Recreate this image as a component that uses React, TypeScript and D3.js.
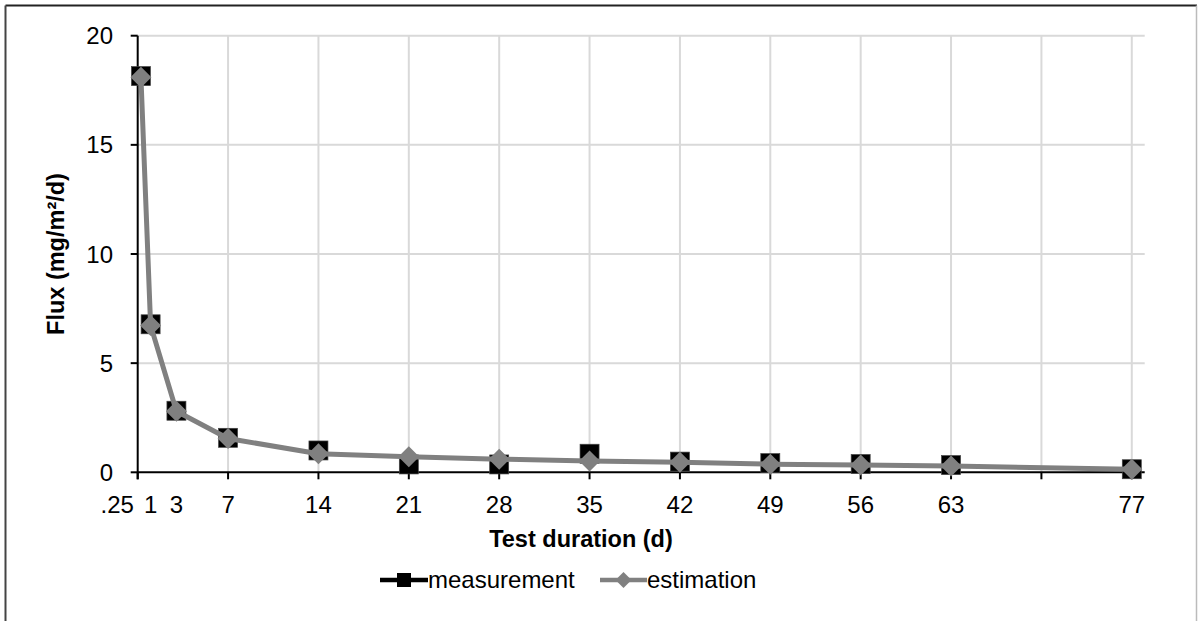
import React from "react";
import * as d3 from "d3";

const days = [0.25, 1, 3, 7, 14, 21, 28, 35, 42, 49, 56, 63, 77];
const dayLabels = [".25", "1", "3", "7", "14", "21", "28", "35", "42", "49", "56", "63", "77"];
const measurement = [18.15, 6.78, 2.82, 1.58, 1.0, 0.36, 0.36, 0.85, 0.49, 0.42, 0.38, 0.33, 0.14];
const estimation = [18.1, 6.73, 2.8, 1.55, 0.85, 0.71, 0.6, 0.52, 0.46, 0.37, 0.33, 0.29, 0.14];
const xGridTicks = [7, 14, 21, 28, 35, 42, 49, 56, 63, 70, 77];
const xAxisTicks = [0, 7, 14, 21, 28, 35, 42, 49, 56, 63, 70, 77];
const yTicks = [0, 5, 10, 15, 20];

const W = 1198;
const H = 621;
const FONT = "'Liberation Sans', Arial, sans-serif";
const FS = 24;

export default function App() {
  const x = d3.scaleLinear().domain([0, 78]).range([137.7, 1144.7]);
  const y = d3.scaleLinear().domain([0, 20]).range([472.3, 35.7]);

  const estLine = d3
    .line<number>()
    .x((_, i) => x(days[i]))
    .y((d) => y(d))(estimation) as string;

  const diamond = (cx: number, cy: number, r: number) =>
    `M${cx},${cy - r}L${cx + r},${cy}L${cx},${cy + r}L${cx - r},${cy}Z`;

  const x0 = x(0);
  const x1 = x(78);
  const y0 = y(0);
  const y1 = y(20);

  return (
    <svg
      width={W}
      height={H}
      style={{ position: "absolute", left: 0, top: 0, background: "#fff" }}
      fontFamily={FONT}
    >
      <rect x={0} y={0} width={W} height={H} fill="#fff" />
      {/* outer frame */}
      <line x1={5.5} y1={5.5} x2={1197} y2={5.5} stroke="#222" strokeWidth={2} />
      <line x1={5.5} y1={5.5} x2={5.5} y2={H} stroke="#444" strokeWidth={2} />
      <line x1={1196.5} y1={5.5} x2={1196.5} y2={H} stroke="#bbb" strokeWidth={1.5} />

      {/* gridlines */}
      {yTicks
        .filter((t) => t > 0)
        .map((t) => (
          <line key={"gy" + t} x1={x0} x2={x1} y1={y(t)} y2={y(t)} stroke="#d9d9d9" strokeWidth={2} />
        ))}
      {xGridTicks.map((t) => (
        <line key={"gx" + t} x1={x(t)} x2={x(t)} y1={y1} y2={y0} stroke="#d9d9d9" strokeWidth={2} />
      ))}

      {/* axes */}
      <line x1={x0} x2={x0} y1={y1} y2={y0 + 7} stroke="#000" strokeWidth={2} />
      <line x1={x0} x2={x1} y1={y0} y2={y0} stroke="#000" strokeWidth={2} />
      {yTicks.map((t) => (
        <g key={"yt" + t}>
          <line x1={x0 - 7} x2={x0} y1={y(t)} y2={y(t)} stroke="#000" strokeWidth={2} />
          <text x={113} y={y(t) + 8.5} fontSize={FS} textAnchor="end" fill="#000">
            {t}
          </text>
        </g>
      ))}
      {xAxisTicks.map((t) => (
        <line key={"xt" + t} x1={x(t)} x2={x(t)} y1={y0} y2={y0 + 7} stroke="#000" strokeWidth={2} />
      ))}
      {days.map((d, i) => (
        <text
          key={"xl" + i}
          x={i === 0 ? x(d) - 7 : x(d)}
          y={513}
          fontSize={FS}
          textAnchor={i === 0 ? "end" : "middle"}
          fill="#000"
        >
          {dayLabels[i]}
        </text>
      ))}

      {/* axis titles */}
      <text x={581} y={547} fontSize={23.5} fontWeight="bold" textAnchor="middle" fill="#000">
        Test duration (d)
      </text>
      <text
        transform={`translate(64,${(y0 + y1) / 2}) rotate(-90)`}
        fontSize={23.5}
        fontWeight="bold"
        textAnchor="middle"
        fill="#000"
      >
        Flux (mg/m²/d)
      </text>

      {/* measurement markers */}
      {measurement.map((v, i) => (
        <rect
          key={"m" + i}
          x={x(days[i]) - 9.5}
          y={y(v) - 9.5}
          width={19}
          height={19}
          fill="#000"
          stroke="#444"
          strokeWidth={0.7}
        />
      ))}

      {/* estimation line and markers */}
      <path d={estLine} fill="none" stroke="#808080" strokeWidth={5} strokeLinejoin="round" />
      {estimation.map((v, i) => (
        <path key={"e" + i} d={diamond(x(days[i]), y(v), 10.5)} fill="#808080" />
      ))}

      {/* legend */}
      <line x1={380} x2={428} y1={580} y2={580} stroke="#000" strokeWidth={4.5} />
      <rect x={397} y={573} width={14} height={14} fill="#000" />
      <text x={428} y={588} fontSize={FS} fill="#000">
        measurement
      </text>
      <line x1={600} x2={647} y1={580} y2={580} stroke="#808080" strokeWidth={4.5} />
      <path d={diamond(623.5, 580, 8)} fill="#808080" />
      <text x={647} y={588} fontSize={FS} fill="#000">
        estimation
      </text>
    </svg>
  );
}
